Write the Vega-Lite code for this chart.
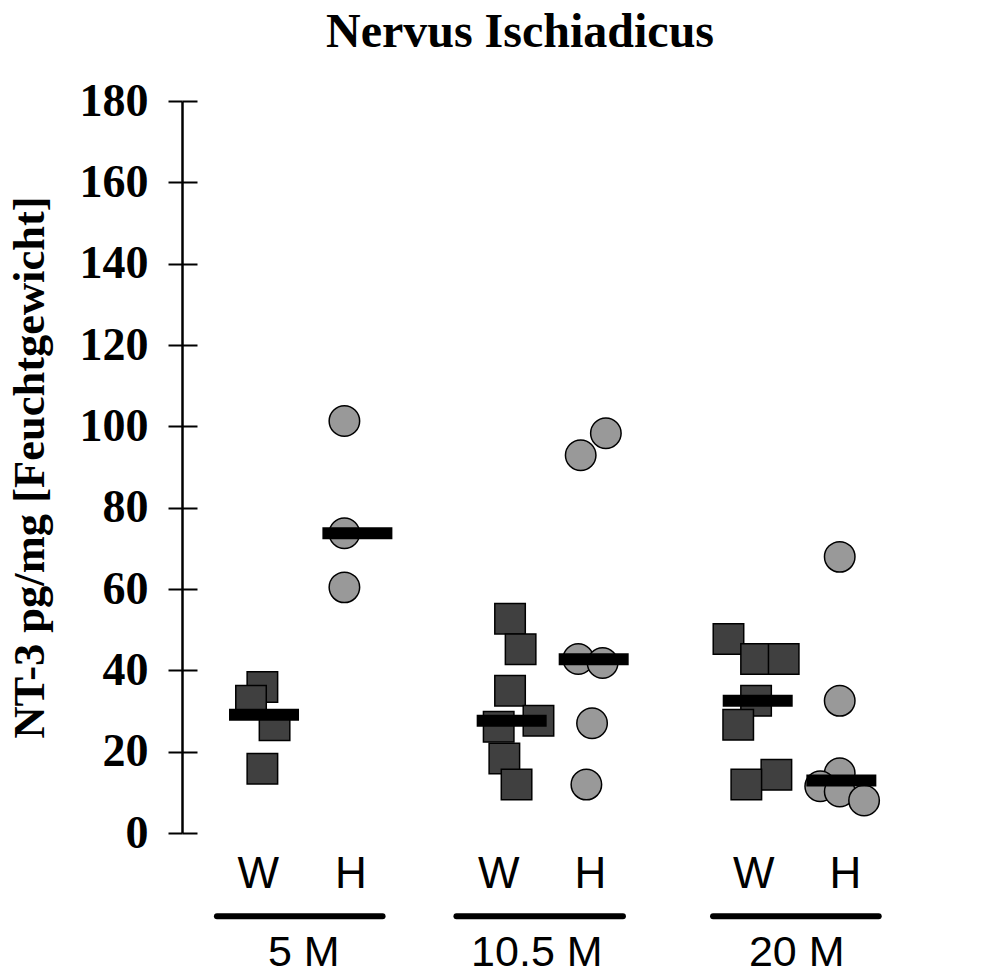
{
  "$schema": "https://vega.github.io/schema/vega-lite/v6.json",
  "autosize": {"type": "none"},
  "padding": {"left": 182, "top": 101, "right": 0, "bottom": 144},
  "width": 812,
  "height": 732,
  "background": "white",
  "title": {
    "text": "Nervus Ischiadicus",
    "font": "Liberation Serif",
    "fontSize": 48,
    "fontWeight": "bold",
    "color": "black",
    "anchor": "middle",
    "dx": -68,
    "offset": 21
  },
  "config": {
    "view": {"stroke": null},
    "axis": {"grid": false}
  },
  "datasets": {
    "samples": [
      {"age": "5 M", "group": "W", "x": 0.99, "value": 35.9},
      {"age": "5 M", "group": "W", "x": 0.85, "value": 32.5},
      {"age": "5 M", "group": "W", "x": 1.14, "value": 26.5},
      {"age": "5 M", "group": "W", "x": 0.99, "value": 15.8},
      {"age": "5 M", "group": "H", "x": 2.0, "value": 101.3},
      {"age": "5 M", "group": "H", "x": 2.0, "value": 73.7},
      {"age": "5 M", "group": "H", "x": 2.0, "value": 60.4},
      {"age": "10.5 M", "group": "W", "x": 4.04, "value": 52.7},
      {"age": "10.5 M", "group": "W", "x": 4.17, "value": 45.2},
      {"age": "10.5 M", "group": "W", "x": 4.04, "value": 35.0},
      {"age": "10.5 M", "group": "W", "x": 4.39, "value": 27.6},
      {"age": "10.5 M", "group": "W", "x": 3.9, "value": 26.1},
      {"age": "10.5 M", "group": "W", "x": 3.97, "value": 18.3},
      {"age": "10.5 M", "group": "W", "x": 4.12, "value": 11.9},
      {"age": "10.5 M", "group": "H", "x": 5.22, "value": 98.3},
      {"age": "10.5 M", "group": "H", "x": 4.91, "value": 92.9},
      {"age": "10.5 M", "group": "H", "x": 4.88, "value": 42.8},
      {"age": "10.5 M", "group": "H", "x": 5.18, "value": 41.8},
      {"age": "10.5 M", "group": "H", "x": 5.05, "value": 27.0},
      {"age": "10.5 M", "group": "H", "x": 4.98, "value": 11.9},
      {"age": "20 M", "group": "W", "x": 6.73, "value": 47.7},
      {"age": "20 M", "group": "W", "x": 7.07, "value": 42.8},
      {"age": "20 M", "group": "W", "x": 7.41, "value": 42.8},
      {"age": "20 M", "group": "W", "x": 7.07, "value": 32.5},
      {"age": "20 M", "group": "W", "x": 6.85, "value": 26.6},
      {"age": "20 M", "group": "W", "x": 7.32, "value": 14.3},
      {"age": "20 M", "group": "W", "x": 6.95, "value": 11.9},
      {"age": "20 M", "group": "H", "x": 8.1, "value": 67.9},
      {"age": "20 M", "group": "H", "x": 8.1, "value": 32.5},
      {"age": "20 M", "group": "H", "x": 8.1, "value": 14.7},
      {"age": "20 M", "group": "H", "x": 7.86, "value": 11.5},
      {"age": "20 M", "group": "H", "x": 8.1, "value": 10.2},
      {"age": "20 M", "group": "H", "x": 8.4, "value": 8.0}
    ],
    "medians": [
      {"age": "5 M", "group": "W", "x": 1.01, "value": 29.1},
      {"age": "5 M", "group": "H", "x": 2.16, "value": 73.7},
      {"age": "10.5 M", "group": "W", "x": 4.06, "value": 27.6},
      {"age": "10.5 M", "group": "H", "x": 5.07, "value": 42.7},
      {"age": "20 M", "group": "W", "x": 7.09, "value": 32.5},
      {"age": "20 M", "group": "H", "x": 8.12, "value": 12.9}
    ],
    "groupLabels": [
      {"label": "W", "x": 0.94},
      {"label": "H", "x": 2.08},
      {"label": "W", "x": 3.9},
      {"label": "H", "x": 5.03},
      {"label": "W", "x": 7.04},
      {"label": "H", "x": 8.17}
    ],
    "ages": [
      {"age": "5 M", "start": 0.43, "end": 2.47, "center": 1.5},
      {"age": "10.5 M", "start": 3.38, "end": 5.43, "center": 4.37},
      {"age": "20 M", "start": 6.54, "end": 8.58, "center": 7.57}
    ]
  },
  "layer": [
    {
      "data": {"name": "samples"},
      "mark": {
        "type": "point",
        "filled": true,
        "size": 930,
        "stroke": "black",
        "strokeWidth": 1.5,
        "opacity": 1
      },
      "encoding": {
        "x": {
          "field": "x",
          "type": "quantitative",
          "scale": {"domain": [0, 10], "nice": false, "zero": false},
          "axis": {
            "title": null,
            "labels": false,
            "ticks": false,
            "domain": true,
            "domainColor": "black",
            "domainWidth": 2.5
          }
        },
        "y": {
          "field": "value",
          "type": "quantitative",
          "scale": {"domain": [0, 180], "nice": false},
          "axis": {
            "title": "NT-3 pg/mg [Feuchtgewicht]",
            "titleFont": "Liberation Serif",
            "titleFontSize": 44.5,
            "titleFontWeight": "bold",
            "titleColor": "black",
            "titlePadding": 27,
            "values": [0, 20, 40, 60, 80, 100, 120, 140, 160, 180],
            "labelFont": "Liberation Serif",
            "labelFontSize": 46,
            "labelFontWeight": "bold",
            "labelColor": "black",
            "labelPadding": 20,
            "labelBaseline": "middle",
            "labelFlush": false,
            "labelOverlap": false,
            "tickSize": 14,
            "tickWidth": 2,
            "tickColor": "black",
            "domainColor": "black",
            "domainWidth": 2.5
          }
        },
        "shape": {
          "field": "group",
          "type": "nominal",
          "scale": {"domain": ["W", "H"], "range": ["square", "circle"]},
          "legend": null
        },
        "fill": {
          "field": "group",
          "type": "nominal",
          "scale": {"domain": ["W", "H"], "range": ["#404040", "#999999"]},
          "legend": null
        }
      }
    },
    {
      "data": {"name": "medians"},
      "mark": {
        "type": "tick",
        "orient": "horizontal",
        "size": 70,
        "thickness": 12,
        "color": "black",
        "opacity": 1
      },
      "encoding": {
        "x": {"field": "x", "type": "quantitative", "axis": null},
        "y": {
          "field": "value",
          "type": "quantitative",
          "axis": {
            "orient": "left",
            "title": null,
            "labels": false,
            "domain": false,
            "values": [0, 20, 40, 60, 80, 100, 120, 140, 160, 180],
            "tickSize": -15,
            "tickWidth": 2,
            "tickColor": "black"
          }
        }
      }
    },
    {
      "data": {"name": "groupLabels"},
      "mark": {
        "type": "text",
        "font": "Liberation Sans",
        "fontSize": 44,
        "color": "black",
        "align": "center",
        "baseline": "alphabetic"
      },
      "encoding": {
        "x": {"field": "x", "type": "quantitative", "axis": null},
        "y": {"datum": -13.6, "type": "quantitative", "axis": null},
        "text": {"field": "label"}
      }
    },
    {
      "data": {"name": "ages"},
      "mark": {
        "type": "rule",
        "color": "black",
        "strokeWidth": 6,
        "strokeCap": "round"
      },
      "encoding": {
        "x": {"field": "start", "type": "quantitative", "axis": null},
        "x2": {"field": "end"},
        "y": {"datum": -20.5, "type": "quantitative", "axis": null}
      }
    },
    {
      "data": {"name": "ages"},
      "mark": {
        "type": "text",
        "font": "Liberation Sans",
        "fontSize": 43,
        "color": "black",
        "align": "center",
        "baseline": "alphabetic"
      },
      "encoding": {
        "x": {"field": "center", "type": "quantitative", "axis": null},
        "y": {"datum": -32.6, "type": "quantitative", "axis": null},
        "text": {"field": "age"}
      }
    }
  ],
  "resolve": {"axis": {"y": "independent"}}
}
